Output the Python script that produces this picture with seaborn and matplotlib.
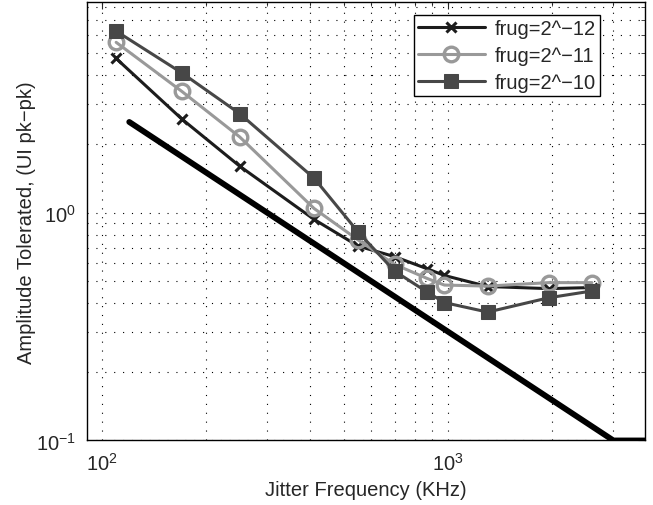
import numpy as np
import pandas as pd
import matplotlib
matplotlib.use("Agg")
import matplotlib.pyplot as plt
import seaborn as sns
from matplotlib.ticker import LogLocator, NullFormatter

# jitter frequency (KHz)
freq = [110, 170, 250, 410, 550, 700, 870, 975, 1300, 1950, 2600]
# tolerated amplitude (UI pk-pk)
amp_12 = [4.75, 2.58, 1.60, 0.934, 0.713, 0.641, 0.567, 0.530, 0.474, 0.464, 0.469]
amp_11 = [5.59, 3.41, 2.15, 1.043, 0.758, 0.593, 0.514, 0.481, 0.476, 0.493, 0.493]
amp_10 = [6.26, 4.11, 2.72, 1.417, 0.821, 0.554, 0.448, 0.403, 0.366, 0.423, 0.453]
labels = ["frug=2^\u221212", "frug=2^\u221211", "frug=2^\u221210"]

# jitter tolerance mask
mask_freq = [120, 3000, 4500]
mask_amp = [2.5, 0.1, 0.1]

sns.set_style("white")
plt.rcParams['font.family'] = ['Liberation Sans', 'DejaVu Sans']
plt.rcParams['mathtext.fontset'] = 'custom'
plt.rcParams['mathtext.rm'] = 'Liberation Sans'

fig = plt.figure(figsize=(6.53, 5.06), dpi=100)
ax = fig.add_axes([0.1332, 0.1275, 0.8545, 0.8665])
ax.set_xscale('log')
ax.set_yscale('log')

sns.lineplot(x=mask_freq, y=mask_amp, color='black', linewidth=4.2, ax=ax, sort=False)
sns.lineplot(x=freq, y=amp_12, color='#1c1c1c', linewidth=2.2, marker='x', markersize=6.5,
             markeredgewidth=2.2, markeredgecolor='#1c1c1c', ax=ax, label=labels[0])
sns.lineplot(x=freq, y=amp_11, color='#999999', linewidth=2.2, marker='o', markersize=10.5,
             markerfacecolor='none', markeredgecolor='#999999', markeredgewidth=2.4,
             ax=ax, label=labels[1])
sns.lineplot(x=freq, y=amp_10, color='#474747', linewidth=2.2, marker='s', markersize=9.5,
             markerfacecolor='#474747', markeredgecolor='#474747', ax=ax, label=labels[2])

ax.set_xlim(90.6, 3700)
ax.set_ylim(0.1, 8.4)
ax.xaxis.set_major_locator(LogLocator(base=10))
ax.xaxis.set_minor_locator(LogLocator(base=10, subs=np.arange(2, 10)))
ax.yaxis.set_minor_locator(LogLocator(base=10, subs=np.arange(2, 10)))
ax.xaxis.set_minor_formatter(NullFormatter())
ax.yaxis.set_minor_formatter(NullFormatter())

ax.grid(True, which='both', linestyle=(0, (1, 7)), color='black', linewidth=0.8)
ax.tick_params(which='both', direction='in', top=True, right=True, labelsize=14.5, pad=8)
ax.tick_params(which='major', length=5)
ax.tick_params(which='minor', length=3)
for s in ax.spines.values():
    s.set_color('black')
    s.set_linewidth(1.0)

ax.set_xlabel("Jitter Frequency (KHz)", fontsize=14.5, labelpad=5)
ax.set_ylabel("Amplitude Tolerated, (UI pk\u2212pk)", fontsize=14.5, labelpad=0)

leg = ax.legend(loc='upper right', bbox_to_anchor=(0.919, 0.970), fontsize=14.5,
                frameon=True, fancybox=False, edgecolor='black', framealpha=1,
                borderaxespad=0, handlelength=3.3, borderpad=0.2, labelspacing=0.4,
                handletextpad=0.5)
leg.get_frame().set_linewidth(1.0)

fig.savefig("out.png", dpi=100)
